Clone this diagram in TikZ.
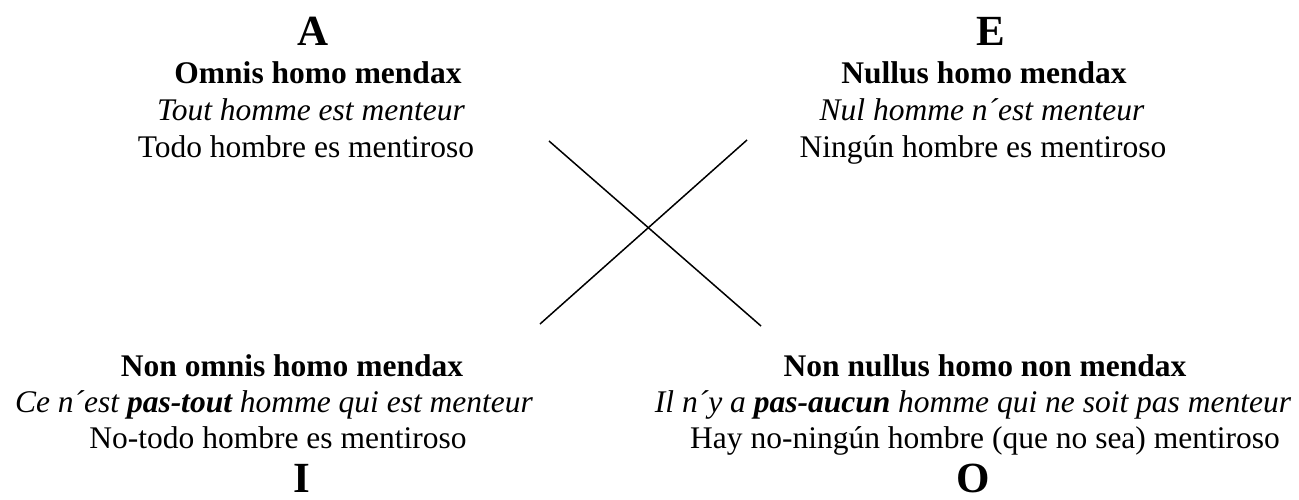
\documentclass[tikz,border=0pt]{standalone}
\usepackage{fontspec}
\setmainfont{Liberation Serif}
\begin{document}
\begin{tikzpicture}[x=1pt,y=-1pt,
  txt/.style={anchor=base, inner sep=0pt, font=\fontsize{31.5}{36}\selectfont},
  bld/.style={txt, font=\fontsize{31.5}{36}\selectfont\bfseries},
  itl/.style={txt, font=\fontsize{31.5}{36}\selectfont\itshape},
  big/.style={anchor=base, inner sep=0pt, font=\fontsize{43}{50}\selectfont\bfseries},
  cross/.style={line width=1.5pt}]
\useasboundingbox (0,0) rectangle (1299,499);
% top left
\node[big] (A) at (313,45) {A};
\node[bld] (A1) at (318,83) {Omnis homo mendax};
\node[itl] (A2) at (311,120) {Tout homme est menteur};
\node[txt] (A3) at (306,157) {Todo hombre es mentiroso};
% top right
\node[big] (E) at (991,45) {E};
\node[bld] (E1) at (984,83) {Nullus homo mendax};
\node[itl] (E2) at (982,120) {Nul homme n´est menteur};
\node[txt] (E3) at (983,157) {Ningún hombre es mentiroso};
% bottom left
\node[bld] (I1) at (292,376) {Non omnis homo mendax};
\node[itl] (I2) at (274,412) {Ce n´est \textbf{pas-tout} homme qui est menteur};
\node[txt] (I3) at (278,448) {No-todo hombre es mentiroso};
\node[big] (I) at (302,492) {I};
% bottom right
\node[bld] (O1) at (985,376) {Non nullus homo non mendax};
\node[itl] (O2) at (973,412) {Il n´y a \textbf{pas-aucun} homme qui ne soit pas menteur};
\node[txt] (O3) at (985,448) {Hay no-ningún hombre (que no sea) mentiroso};
\node[big] (O) at (973,492) {O};
% cross
\coordinate (p1) at (549,141);
\coordinate (p2) at (761,326);
\coordinate (q1) at (747,140);
\coordinate (q2) at (540,324);
\draw[cross] (p1) -- (p2);
\draw[cross] (q1) -- (q2);
\end{tikzpicture}
\end{document}
